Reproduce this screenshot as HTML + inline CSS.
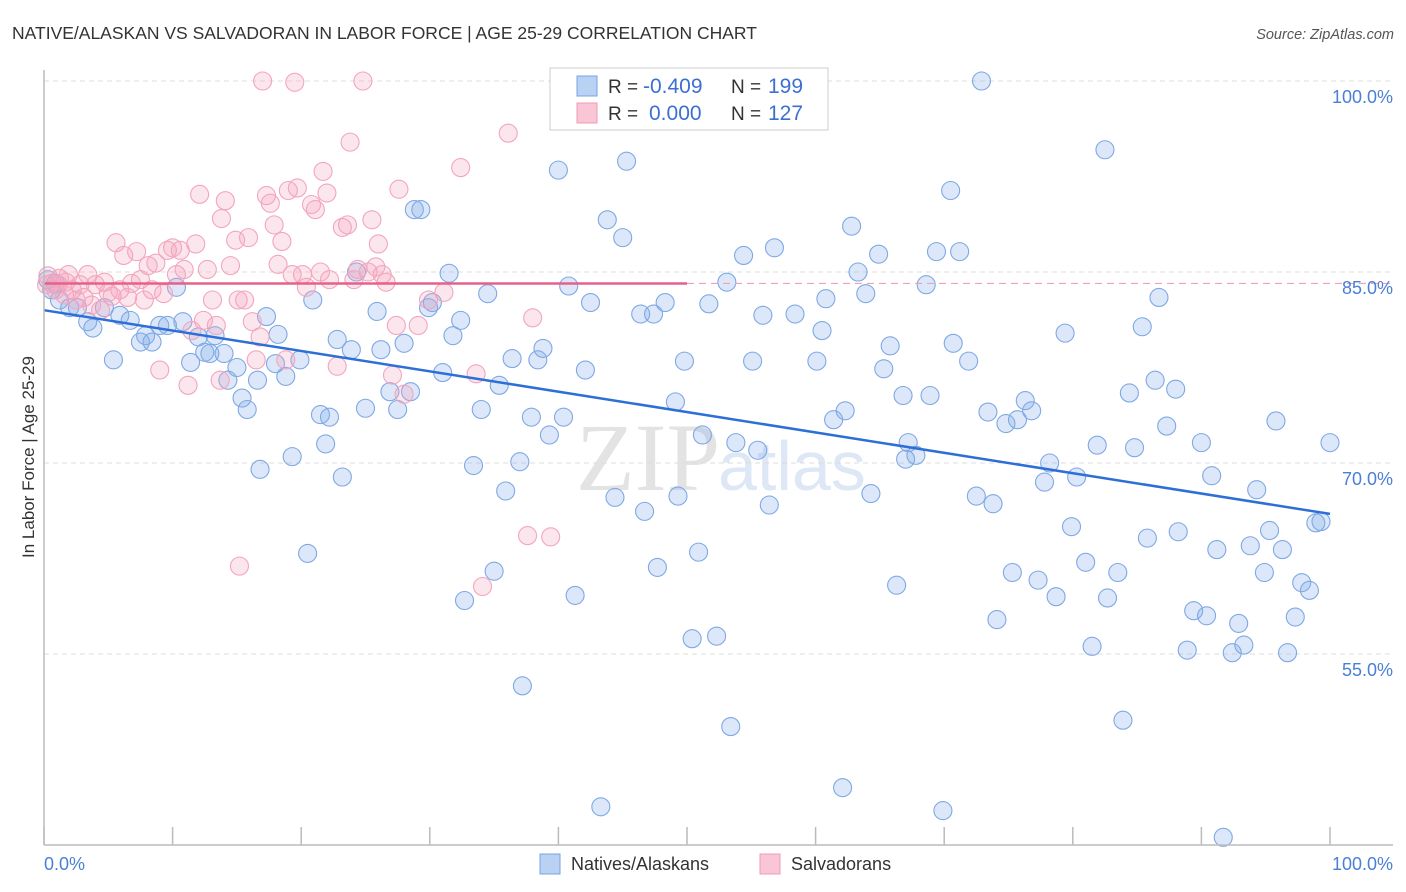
<!DOCTYPE html>
<html><head><meta charset="utf-8"><style>
body{margin:0;background:#fff;font-family:"Liberation Sans",sans-serif}
svg{display:block}
</style></head><body>
<svg id="chart" width="1406" height="892" xmlns="http://www.w3.org/2000/svg">
<text x="12" y="39" font-size="17.5" fill="#333">NATIVE/ALASKAN VS SALVADORAN IN LABOR FORCE | AGE 25-29 CORRELATION CHART</text>
<text x="1394" y="39" font-size="14.5" fill="#555" font-style="italic" text-anchor="end">Source: ZipAtlas.com</text>
<text x="720" y="490" font-size="96" fill="#e3e3e3" text-anchor="end" font-family="Liberation Serif,serif">ZIP</text>
<text x="718" y="490" font-size="70" fill="#dde7f5">atlas</text>
<text transform="translate(34,457) rotate(-90)" font-size="17" fill="#333" text-anchor="middle">In Labor Force | Age 25-29</text>
<g id="grid"></g><g id="pts"></g><g id="lines"></g>
<line x1="44" y1="70" x2="44" y2="845" stroke="#bbb" stroke-width="1.5"/>
<line x1="44" y1="845" x2="1393" y2="845" stroke="#bbb" stroke-width="1.5"/>
<text x="44" y="870" font-size="18" fill="#4a7fd6">0.0%</text>
<text x="1393" y="870" font-size="18" fill="#4a7fd6" text-anchor="end">100.0%</text>
<g>
<rect x="550" y="68" width="278" height="62" fill="#fff" stroke="#ccc"/>
<rect x="577" y="76" width="20" height="20" fill="#b9d1f3" stroke="#7aa3e3"/>
<rect x="577" y="103" width="20" height="20" fill="#f9c6d6" stroke="#f09ab5"/>
<text x="608" y="93" font-size="19" fill="#333">R = <tspan x="643" fill="#3d6fd1" font-size="21">-0.409</tspan><tspan x="731">N = </tspan><tspan x="768" fill="#3d6fd1" font-size="21">199</tspan></text>
<text x="608" y="120" font-size="19" fill="#333">R = <tspan x="649" fill="#3d6fd1" font-size="21">0.000</tspan><tspan x="731">N = </tspan><tspan x="768" fill="#3d6fd1" font-size="21">127</tspan></text>
</g>
<rect x="540" y="854" width="20" height="20" fill="#b9d1f3" stroke="#7aa3e3"/>
<text x="571" y="870" font-size="18" fill="#333">Natives/Alaskans</text>
<rect x="760" y="854" width="20" height="20" fill="#f9c6d6" stroke="#f09ab5"/>
<text x="791" y="870" font-size="18" fill="#333">Salvadorans</text>
</svg>
<script>
const yTicks=[100,85,70,55];
const xTicks=[0,10,20,30,40,50,60,70,80,90,100];
const blueX=[0.6,1.2,2.0,2.6,3.4,3.8,4.7,5.4,5.9,6.7,7.5,7.9,8.4,9.0,9.6,10.3,10.8,11.4,12.0,12.5,12.9,13.3,14.0,14.3,15.0,15.4,15.8,16.6,16.8,17.3,18.2,18.0,18.8,19.3,19.9,20.5,20.9,21.5,21.9,22.2,22.8,23.2,23.9,24.3,25.0,25.9,26.2,26.9,27.5,28.0,28.5,28.8,29.3,29.9,30.2,31.0,31.5,31.8,32.4,32.7,33.4,34.0,34.5,35.0,35.4,35.9,36.4,37.0,37.2,37.9,38.4,38.8,39.3,40.0,40.4,40.8,41.3,42.1,42.5,43.3,43.8,44.4,45.0,45.3,46.4,46.7,47.4,47.7,48.3,49.1,49.3,49.8,50.4,50.9,51.2,51.7,52.3,53.1,53.4,53.8,54.4,55.1,55.5,55.9,56.4,56.8,58.4,60.1,60.5,60.8,61.4,62.1,62.3,62.8,63.3,63.9,64.3,64.9,65.3,65.8,66.3,66.8,67.2,67.0,67.8,68.6,68.9,69.4,69.9,70.5,70.7,71.2,71.9,72.5,72.9,73.4,73.8,74.1,74.8,75.3,75.7,76.3,76.8,77.3,77.8,78.2,78.7,79.4,79.9,80.3,81.0,81.5,81.9,82.5,82.7,83.5,83.9,84.4,84.8,85.4,85.8,86.4,86.7,87.3,88.0,88.2,88.9,89.4,90.0,90.4,90.8,91.2,91.7,92.4,92.9,93.3,93.8,94.3,94.9,95.3,95.8,96.3,96.7,97.3,97.8,98.4,98.9,99.3,100,58.2,58.9,57.9,0.3,0.9];
const blueY=[83.6,82.8,82.2,82.2,81.1,80.6,82.2,78.1,81.6,81.2,79.5,80.0,79.5,80.8,80.8,83.8,81.1,77.9,79.9,78.7,78.6,80.0,78.6,76.5,77.5,75.1,74.2,76.5,69.5,81.5,80.1,77.8,76.8,70.5,78.1,62.9,82.8,73.8,71.5,73.6,79.7,68.9,78.9,85.0,74.3,81.9,78.9,75.6,74.2,79.4,75.6,89.9,89.9,82.2,82.6,77.1,84.9,80.0,81.2,59.2,69.8,74.2,83.3,61.5,76.1,67.8,78.2,70.1,52.5,73.6,78.1,79.0,72.2,93.0,73.6,83.9,59.6,77.3,82.6,43.0,89.1,67.3,87.7,93.7,81.7,66.2,81.7,61.8,82.6,74.8,67.4,78.0,56.2,63.0,72.2,82.5,56.4,84.2,49.3,71.6,86.3,78.0,71.0,81.6,66.7,86.9,81.7,78.0,80.4,82.9,73.4,44.5,74.1,88.6,85.0,83.3,67.6,86.4,77.4,79.2,60.4,75.3,71.6,70.3,70.6,84.0,75.3,86.6,42.7,91.4,79.4,86.6,78.0,67.4,100,74.0,66.8,57.7,73.1,61.4,73.4,74.9,74.1,60.8,68.5,70.0,59.5,80.2,65.0,68.9,62.2,55.6,71.4,94.6,59.4,61.4,49.8,75.5,71.2,80.7,64.1,76.5,83.0,72.9,75.8,64.6,55.3,58.4,71.6,58.0,69.0,63.2,40.6,55.1,57.4,55.7,63.5,67.9,61.4,64.7,73.3,63.2,55.1,57.9,60.6,60.0,65.3,65.4,71.6,100,100,99.9,84.4,84.1];
const pinkX=[0.3,0.6,0.9,1.2,1.6,1.9,2.2,2.5,2.8,3.1,3.4,3.7,4.0,4.4,4.7,5.0,5.3,5.6,5.9,6.2,6.5,6.8,7.2,7.5,7.8,8.1,8.4,8.7,9.0,9.3,9.6,10.0,10.3,10.6,10.9,11.2,11.5,11.8,12.1,12.4,12.7,13.1,13.4,13.7,13.8,14.1,14.5,14.9,15.1,15.2,15.6,15.9,16.2,16.5,16.8,17.0,17.3,17.6,17.9,18.2,18.5,18.8,19.0,19.3,19.5,19.7,20.1,20.4,20.8,21.1,21.5,21.7,22.0,22.2,22.8,23.2,23.6,23.8,24.1,24.4,24.8,25.2,25.5,25.8,26.0,26.3,26.6,27.1,27.4,27.6,28.0,29.1,29.9,31.1,32.4,33.6,34.1,36.1,37.6,38.0,39.4,0.2,1.1,1.7];
const pinkY=[84.7,84.1,83.6,84.5,83.2,84.8,83.6,82.8,84.0,83.0,84.8,82.4,84.0,82.0,84.2,83.4,83.1,87.3,83.6,86.3,83.0,84.1,86.6,84.4,82.8,85.5,83.6,85.7,77.3,83.3,86.7,86.9,84.8,86.7,85.2,76.1,80.4,87.2,91.1,81.2,85.2,82.8,80.8,76.5,89.2,90.6,85.5,87.5,82.8,61.9,82.8,87.7,81.1,78.1,79.9,100,91.0,90.4,88.7,85.6,87.4,78.1,91.4,84.8,99.9,91.6,84.8,83.8,90.3,89.9,85.0,92.9,91.2,84.4,77.6,88.5,88.7,95.2,84.4,85.2,100,85.0,89.1,85.4,87.2,84.8,84.2,76.9,80.8,91.5,75.4,80.8,82.8,83.4,93.2,77.0,60.3,95.9,64.3,81.4,64.2,84.0,84.0,84.2];
const blueTrend=[82.0,66.0];
const pinkTrend=[84.1,84.1];
const X=v=>44+v*12.86, Y=v=>81+(100-v)*12.733;
const NS='http://www.w3.org/2000/svg';
function mk(t,a,p){const e=document.createElementNS(NS,t);for(const k in a)e.setAttribute(k,a[k]);p.appendChild(e);return e;}
const grid=document.getElementById('grid'),pts=document.getElementById('pts'),lines=document.getElementById('lines'),svg=document.getElementById('chart');
yTicks.forEach(t=>{
 const l=mk('line',{x1:44,x2:1393,y1:Y(t),y2:Y(t),stroke:'#ddd','stroke-dasharray':'5,4'},grid);
 
 
 const tx=mk('text',{x:1393,y:Y(t)+22,'font-size':18,fill:'#4a7fd6','text-anchor':'end'},svg);
 tx.textContent=t.toFixed(1)+'%';
 
 
});
xTicks.forEach(t=>{
 const l=mk('line',{x1:X(t),x2:X(t),y1:827,y2:845,stroke:'#bbb','stroke-width':1.5},grid);
 
 
});
blueX.forEach((v,i)=>{
 const c=mk('circle',{cx:X(v),cy:Y(blueY[i]),r:9,fill:'rgba(130,172,232,0.28)',stroke:'#7fa8e4','stroke-width':1.1},pts);
 
 
});
pinkX.forEach((v,i)=>{
 const c=mk('circle',{cx:X(v),cy:Y(pinkY[i]),r:9,fill:'rgba(245,165,192,0.28)',stroke:'#f3a5bd','stroke-width':1.1},pts);
 
 
});
const bl=mk('line',{x1:X(0),y1:Y(blueTrend[0]),x2:X(100),y2:Y(blueTrend[1]),stroke:'#2d6fd6','stroke-width':2.5},lines);


const pl=mk('line',{x1:X(0),y1:Y(pinkTrend[0]),x2:X(50),y2:Y(pinkTrend[0]),stroke:'#e8608a','stroke-width':2.5},lines);


const pd=mk('line',{x1:X(50),y1:Y(pinkTrend[0]),x2:1393,y2:Y(pinkTrend[1]),stroke:'#f0a0b8','stroke-width':1.2,'stroke-dasharray':'7,5'},lines);


</script>
</body></html>
